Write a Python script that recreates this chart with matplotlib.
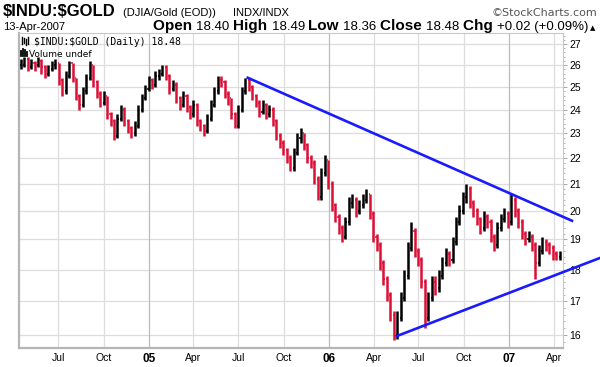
import numpy as np
import pandas as pd
import matplotlib
matplotlib.use('Agg')
import matplotlib.pyplot as plt
import matplotlib.dates as mdates

# weekly bars (DJIA / Gold ratio)
close = [
    26.0, 26.3, 25.9,
    26.1, 26.0, 26.2, 25.9, 25.6, 25.8, 26.0, 26.1, 25.3, 24.8,
    25.5, 26.1, 25.4, 24.6, 24.2, 24.8, 25.4, 26.0, 25.2, 24.7,
    24.3, 24.6, 23.8, 23.5, 22.9, 23.6, 24.0, 23.5, 23.2, 23.0,
    23.3, 24.0, 24.5, 24.9, 25.3, 25.1, 25.5, 25.6, 25.9, 25.5,
    24.9, 25.1, 24.5, 24.2, 24.6, 24.1, 23.8, 24.2, 23.5, 23.3,
    23.1, 23.6, 24.2, 24.8, 25.3, 25.2, 24.7, 24.5, 23.8, 23.3,
    24.0, 24.8, 25.3, 25.0, 24.6, 24.3, 23.9, 24.2, 23.8, 24.0,
    23.5, 22.9, 22.6, 22.3, 22.0, 21.6, 22.2, 22.8, 23.0, 22.5,
    22.0, 21.8, 21.2, 20.5, 21.4, 21.9, 21.0, 20.2, 19.8, 19.4,
    19.1, 19.6, 20.3, 20.4, 20.0, 20.2, 20.4, 20.6, 19.9, 19.1,
    18.8, 18.2, 17.7, 17.2, 16.6, 16.0, 16.5, 17.1, 17.8, 18.7,
    19.3, 18.6, 18.3, 17.6, 16.5, 17.1, 17.6, 17.4, 17.8, 18.2,
    18.5, 18.3, 18.9, 19.6, 20.0, 20.5, 20.8, 20.3, 20.0, 19.7,
    19.4, 19.8, 19.6, 19.1, 18.8, 19.4, 19.7, 19.9, 19.6, 20.4,
    20.0, 19.6, 19.2, 19.0, 19.1, 18.8, 18.2, 18.6, 18.9, 18.8,
    18.7, 18.5, 18.4, 18.48,
]
high = [
    26.3, 26.4, 26.4,
    26.3, 26.2, 26.4, 26.3, 26.0, 26.0, 26.2, 26.3, 26.1, 25.4,
    25.7, 26.2, 26.1, 25.4, 24.7, 25.0, 25.6, 26.2, 26.0, 25.3,
    24.8, 24.8, 24.6, 23.9, 23.6, 23.8, 24.2, 24.1, 23.6, 23.3,
    23.5, 24.2, 24.7, 25.1, 25.5, 25.4, 25.7, 25.8, 26.0, 26.0,
    25.6, 25.3, 25.2, 24.6, 24.8, 24.7, 24.2, 24.4, 24.3, 23.6,
    23.4, 23.8, 24.4, 25.0, 25.5, 25.5, 25.3, 24.8, 24.5, 23.9,
    24.2, 25.0, 25.4, 25.4, 25.1, 24.7, 24.4, 24.4, 24.3, 24.2,
    24.1, 23.6, 23.0, 22.7, 22.4, 22.1, 22.4, 23.0, 23.2, 23.0,
    22.6, 22.1, 21.9, 21.3, 21.6, 22.1, 21.9, 21.1, 20.3, 19.9,
    19.5, 19.8, 20.5, 20.6, 20.5, 20.4, 20.6, 20.8, 20.6, 20.0,
    19.2, 18.9, 18.3, 17.8, 17.3, 16.7, 16.7, 17.3, 18.0, 18.9,
    19.6, 19.4, 18.7, 18.4, 17.7, 17.3, 17.8, 17.8, 18.0, 18.4,
    18.7, 18.6, 19.1, 19.8, 20.2, 20.7, 21.0, 20.9, 20.4, 20.1,
    19.8, 20.0, 19.9, 19.7, 19.2, 19.6, 19.9, 20.1, 20.0, 20.6,
    20.5, 20.1, 19.7, 19.3, 19.3, 19.2, 18.9, 18.8, 19.1, 19.0,
    18.9, 18.8, 18.6, 18.6,
]
low = [
    25.8, 25.9, 25.7,
    25.8, 25.7, 25.9, 25.6, 25.4, 25.5, 25.7, 25.8, 25.1, 24.6,
    24.7, 25.4, 25.2, 24.4, 24.0, 24.1, 24.7, 25.3, 25.0, 24.5,
    24.1, 24.2, 23.6, 23.3, 22.7, 22.8, 23.5, 23.3, 23.0, 22.8,
    22.9, 23.2, 23.9, 24.4, 24.8, 24.9, 25.0, 25.3, 25.5, 25.3,
    24.7, 24.8, 24.3, 24.0, 24.1, 23.9, 23.6, 23.7, 23.3, 23.1,
    22.9, 23.0, 23.5, 24.1, 24.7, 25.0, 24.5, 24.2, 23.6, 23.2,
    23.2, 23.9, 24.7, 24.8, 24.4, 24.1, 23.7, 23.8, 23.6, 23.7,
    23.3, 22.7, 22.4, 22.1, 21.8, 21.5, 21.5, 22.1, 22.6, 22.3,
    21.8, 21.6, 21.0, 20.4, 20.4, 21.3, 20.8, 20.0, 19.6, 19.2,
    18.9, 19.0, 19.5, 20.1, 19.8, 19.9, 20.1, 20.3, 19.7, 18.9,
    18.6, 18.0, 17.5, 17.0, 16.4, 15.85, 15.9, 16.4, 17.0, 17.7,
    18.6, 18.4, 18.1, 17.4, 16.2, 16.4, 17.0, 17.2, 17.3, 17.7,
    18.1, 18.1, 18.2, 18.8, 19.5, 19.9, 20.3, 20.1, 19.8, 19.5,
    19.2, 19.3, 19.4, 18.9, 18.6, 18.7, 19.3, 19.6, 19.4, 19.5,
    19.8, 19.4, 19.0, 18.8, 18.9, 18.6, 17.7, 18.1, 18.5, 18.6,
    18.5, 18.3, 18.3, 18.3,
]
last_day = '2007-04-13'

y_ticks = [16, 17, 18, 19, 20, 21, 22, 23, 24, 25, 26, 27]
x_tick_dates = ['2004-07-01', '2004-10-01', '2005-01-01', '2005-04-01',
                '2005-07-01', '2005-10-01', '2006-01-01', '2006-04-01',
                '2006-07-01', '2006-10-01', '2007-01-01', '2007-04-01']
x_tick_labels = ['Jul', 'Oct', '05', 'Apr', 'Jul', 'Oct', '06', 'Apr',
                 'Jul', 'Oct', '07', 'Apr']

# trend lines drawn on the chart
upper_dates = ['2005-07-20', '2007-05-08']
upper_vals = [25.41, 19.65]
lower_dates = ['2006-05-18', '2007-07-04']
lower_vals = [15.97, 18.38]

W, H = 600, 367
fig = plt.figure(figsize=(6, 3.67), dpi=100)
ax = fig.add_axes([19 / W, 1 - 347.7 / H, (563.3 - 19) / W, (347.7 - 33) / H])

dates = pd.date_range(end=last_day, periods=len(close), freq='W-FRI')
x = mdates.date2num(dates)
opens = [close[0]] + close[:-1]
cols = ['black' if c >= o else '#dc0f35' for o, c in zip(opens, close)]
ax.vlines(x, low, high, colors=cols, lw=1.8, zorder=3)
ax.hlines(opens, x - 2.2, x, colors=cols, lw=1.1, zorder=3)
ax.hlines(close, x, x + 2.2, colors=cols, lw=1.1, zorder=3)

# trend lines
ax.plot(mdates.date2num(pd.to_datetime(upper_dates)), upper_vals,
        color='#1a1aff', lw=1.9, clip_on=False, zorder=4)
ax.plot(mdates.date2num(pd.to_datetime(lower_dates)), lower_vals,
        color='#1a1aff', lw=1.9, clip_on=False, zorder=4)

ax.set_yscale('log')
ax.set_ylim(15.64, 27.54)
ax.set_xlim(mdates.date2num(pd.Timestamp('2004-04-12 10:00')),
            mdates.date2num(pd.Timestamp('2007-04-20 12:00')))

ax.yaxis.tick_right()
ax.set_yticks(y_ticks)
ax.set_yticklabels([str(v) for v in y_ticks])
ax.yaxis.set_minor_locator(matplotlib.ticker.FixedLocator(np.arange(15.8, 27.5, 0.2)))
ax.yaxis.set_minor_formatter(matplotlib.ticker.NullFormatter())
ax.tick_params(axis='y', which='major', length=3, width=0.6, color='#999999',
               labelsize=7.5, pad=1.5)
ax.tick_params(axis='y', which='minor', length=1.5, width=0.5, color='#999999')

xt = mdates.date2num(pd.to_datetime(x_tick_dates))
ax.set_xticks(xt)
ax.set_xticklabels(x_tick_labels)
ax.tick_params(axis='x', length=0, labelsize=7.5, pad=4)
for lab in ax.get_xticklabels():
    lab.set_fontfamily('Liberation Sans')
    if lab.get_text().isdigit():
        lab.set_fontweight('bold')
        lab.set_fontsize(8.5)
for lab in ax.get_yticklabels():
    lab.set_fontfamily('Liberation Sans')

# grid
for v in y_ticks:
    ax.axhline(v, color='#dddddd', lw=0.9, zorder=1)
for d, l in zip(xt, x_tick_labels):
    ax.axvline(d, color='#bbbbbb' if l.isdigit() else '#dddddd', lw=0.9, zorder=1)

for s in ['left', 'bottom']:
    ax.spines[s].set_color('#b5b5b5')
    ax.spines[s].set_linewidth(1.6)
for s in ['top', 'right']:
    ax.spines[s].set_color('#c8c8c8')
    ax.spines[s].set_linewidth(0.8)

# header texts
fig.text(3 / W, 1 - 16 / H, r'\$INDU:\$GOLD', fontsize=12, fontweight='bold',
         family=['Liberation Sans Narrow', 'Liberation Sans'], va='baseline')
fig.text(123 / W, 1 - 16 / H, '(DJIA/Gold (EOD))', fontsize=8,
         family='Liberation Sans', va='baseline')
fig.text(233 / W, 1 - 16 / H, 'INDX/INDX', fontsize=8,
         family='Liberation Sans', va='baseline')
fig.text(597 / W, 1 - 16 / H, '\u00a9StockCharts.com', fontsize=8, color='#555555',
         family='DejaVu Sans', va='baseline', ha='right')
fig.text(3 / W, 1 - 30 / H, '13-Apr-2007', fontsize=8,
         family='Liberation Sans', va='baseline')

runs = [('Open ', 'bold'), ('18.40 ', 'normal'), ('High ', 'bold'), ('18.49 ', 'normal'),
        ('Low ', 'bold'), ('18.36 ', 'normal'), ('Close ', 'bold'), ('18.48 ', 'normal'),
        ('Chg ', 'bold'), ('+0.02 (+0.09%)', 'normal')]
rend = fig.canvas.get_renderer()
xpos = 153
for s, w in runs:
    t = fig.text(xpos / W, 1 - 30 / H, s, fontsize=11 if w == 'bold' else 9.5,
                 fontweight=w, family='Liberation Sans', va='baseline')
    xpos += t.get_window_extent(rend).width
fig.text((xpos + 2) / W, 1 - 30 / H, '\u25b2', fontsize=5, family='DejaVu Sans',
         va='baseline')

# legend inside the plot (small price-bar and volume icons)
px = lambda v: v / W
py = lambda v: 1 - v / H
for xi, y0, y1 in [(22, 37, 44), (24, 38, 43), (26, 39, 45), (28, 37, 44)]:
    fig.add_artist(plt.Line2D([px(xi), px(xi)], [py(y0), py(y1)], color='black', lw=1))
for xi, y0 in [(21, 51), (23, 49), (25, 50), (27, 52)]:
    fig.add_artist(plt.Line2D([px(xi), px(xi)], [py(y0), py(56)], color='black', lw=1.3))
fig.text(px(34), py(45), r'\$INDU:\$GOLD (Daily) 18.48', fontsize=7,
         family='DejaVu Sans Mono', va='baseline', zorder=5)
fig.text(px(29), py(57), 'Volume undef', fontsize=6.5,
         family='DejaVu Sans', va='baseline', zorder=5)

fig.savefig('out.png', dpi=100)
